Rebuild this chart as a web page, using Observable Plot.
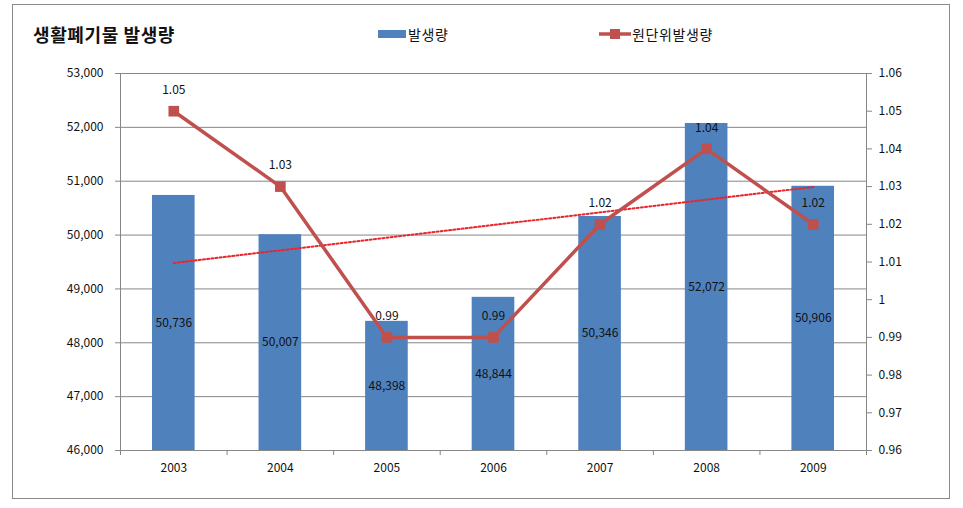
<!DOCTYPE html>
<html>
<head>
<meta charset="utf-8">
<script src="https://cdn.jsdelivr.net/npm/d3@7"></script>
<script src="https://cdn.jsdelivr.net/npm/@observablehq/plot@0.6"></script>
<style>
  html, body { margin: 0; padding: 0; background: #fff; }
  #wrap { position: relative; width: 963px; height: 508px; font-family: "Noto Sans CJK KR", "Noto Sans", sans-serif; }
  #frame { position: absolute; left: 12px; top: 4px; width: 938px; height: 495px; border: 1px solid #8a8a8a; box-sizing: border-box; }
  #title { position: absolute; left: 33px; top: 22px; font-size: 18px; letter-spacing: 0.6px; font-weight: bold; color: #111; line-height: 24px; }
  .leg { position: absolute; top: 24px; font-size: 14px; letter-spacing: 0.6px; color: #111; line-height: 20px; display: flex; align-items: center; }
  #chart { position: absolute; left: 0; top: 0; }
</style>
</head>
<body>
<div id="wrap">
  <div id="frame"></div>
  <div id="chart"></div>
  <div id="title">생활폐기물 발생량</div>
  <div class="leg" style="left:378px;">
    <svg width="30" height="20"><rect x="0" y="6" width="28" height="8" fill="#4F81BD"></rect></svg>
    <span>발생량</span>
  </div>
  <div class="leg" style="left:599px;">
    <svg width="33" height="20"><line x1="0" y1="10" x2="32" y2="10" stroke="#C0504D" stroke-width="3.5"></line><rect x="11" y="5" width="10" height="10" fill="#C0504D"></rect></svg>
    <span>원단위발생량</span>
  </div>
</div>
<script>
const years = [2003, 2004, 2005, 2006, 2007, 2008, 2009];
const amounts = [50736, 50007, 48398, 48844, 50346, 52072, 50906];
const unitRates = [1.05, 1.03, 0.99, 0.99, 1.02, 1.04, 1.02];
const leftTicks = [46000, 47000, 48000, 49000, 50000, 51000, 52000, 53000];
const rightTicks = [0.96, 0.97, 0.98, 0.99, 1.00, 1.01, 1.02, 1.03, 1.04, 1.05, 1.06];

const BLUE = "#4F81BD", RED = "#C0504D", GRID = "#868686";
const yMin = leftTicks[0], yMax = leftTicks[leftTicks.length - 1];
const rMin = rightTicks[0], rMax = rightTicks[rightTicks.length - 1];
const toLeft = v => yMin + (v - rMin) / (rMax - rMin) * (yMax - yMin);

const data = years.map((year, i) => ({year, amount: amounts[i], rate: unitRates[i], rateY: toLeft(unitRates[i])}));

// linear trend of the bar series (Excel-style trendline)
const mx = d3.mean(years), my = d3.mean(amounts);
const slope = d3.sum(years, (x, i) => (x - mx) * (amounts[i] - my)) / d3.sum(years, x => (x - mx) ** 2);
const icpt = my - slope * mx;
const trend = [years[0], years[years.length - 1]].map(x => ({year: x, v: icpt + slope * x}));

const boundaries = [years[0] - 0.5, ...years.map(y => y + 0.5)];
const half = 0.2;

const rightMap = new Map(rightTicks.map(t => [toLeft(t), String(+t.toFixed(2))]));
const rightPos = rightTicks.map(toLeft);

const fmt = d3.format(",");
const font = "'Noto Sans CJK KR', 'Noto Sans', sans-serif";

const chart = Plot.plot({
  width: 963,
  height: 508,
  marginLeft: 120,
  marginRight: 97,
  marginTop: 73,
  marginBottom: 58,
  style: {fontFamily: font, fontSize: "12px", color: "#111", background: "transparent"},
  x: {type: "linear", domain: [boundaries[0], boundaries[boundaries.length - 1]], axis: null},
  y: {domain: [yMin, yMax], axis: null},
  marks: [
    Plot.gridY(leftTicks.slice(1), {stroke: GRID, strokeOpacity: 1}),
    Plot.rectY(data, {x1: d => d.year - half, x2: d => d.year + half, y1: yMin, y2: "amount", fill: BLUE}),
    Plot.ruleY([yMin], {stroke: GRID}),
    Plot.ruleX([boundaries[0], boundaries[boundaries.length - 1]], {stroke: GRID}),
    Plot.axisY(leftTicks, {anchor: "left", tickSize: 5, tickPadding: 12, tickFormat: fmt, stroke: GRID, fill: "#111", label: null}),
    Plot.axisY(rightPos, {anchor: "right", tickSize: 5, tickPadding: 7, tickFormat: d => rightMap.get(d), stroke: GRID, fill: "#111", label: null}),
    Plot.axisX(boundaries, {tickSize: 5, tickFormat: () => "", stroke: GRID, label: null}),
    Plot.axisX(years, {tickSize: 0, tickPadding: 13, tickFormat: d => String(d), fill: "#111", label: null}),
    Plot.text(data, {x: "year", y: d => (yMin + d.amount) / 2, text: d => fmt(d.amount), fill: "#111", fontSize: 12}),
    Plot.line(trend, {x: "year", y: "v", stroke: "#E8262C", strokeWidth: 2, strokeDasharray: "2,2.2"}),
    Plot.line(data, {x: "year", y: "rateY", stroke: RED, strokeWidth: 3.5}),
    Plot.dot(data, {x: "year", y: "rateY", symbol: "square", r: 6, fill: RED}),
    Plot.text(data, {x: "year", y: "rateY", text: d => d.rate.toFixed(2), dy: -21, fill: "#111", fontSize: 12})
  ]
});
document.getElementById("chart").appendChild(chart);
</script>
</body>
</html>
